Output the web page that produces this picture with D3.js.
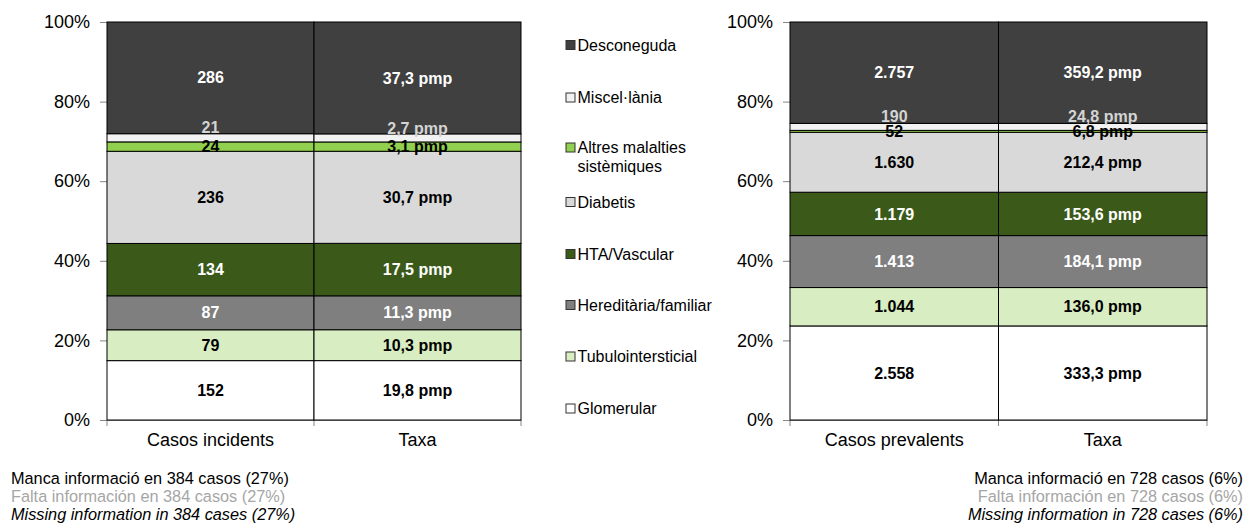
<!DOCTYPE html>
<html><head><meta charset="utf-8">
<script src="https://cdn.jsdelivr.net/npm/d3@7"></script>
<style>body{margin:0;background:#fff}svg{font-family:"Liberation Sans",Arial,sans-serif}</style>
</head><body><svg id="c" width="1246" height="524"></svg>
<script>
const series = ["Glomerular","Tubulointersticial","Hereditària/familiar","HTA/Vascular","Diabetis","Altres malalties sistèmiques","Miscel·lània","Desconeguda"];
const incCases = [152,79,87,134,236,24,21,286];
const incRate = [19.8,10.3,11.3,17.5,30.7,3.1,2.7,37.3];
const prevCases = [2558,1044,1413,1179,1630,52,190,2757];
const prevRate = [333.3,136.0,184.1,153.6,212.4,6.8,24.8,359.2];
const incCats = ["Casos incidents","Taxa"];
const prevCats = ["Casos prevalents","Taxa"];
const yTicks = [0,0.2,0.4,0.6,0.8,1];
const legendOrder = ["Desconeguda","Miscel·lània","Altres malalties sistèmiques","Diabetis","HTA/Vascular","Hereditària/familiar","Tubulointersticial","Glomerular"];
const notesInc = ["Manca informació en 384 casos (27%)","Falta información en 384 casos (27%)","Missing information in 384 cases (27%)"];
const notesPrev = ["Manca informació en 728 casos (6%)","Falta información en 728 casos (6%)","Missing information in 728 cases (6%)"];

const colors = {"Glomerular":"#ffffff","Tubulointersticial":"#d8edc1","Hereditària/familiar":"#7f7f7f","HTA/Vascular":"#3b5a19","Diabetis":"#d9d9d9","Altres malalties sistèmiques":"#92d050","Miscel·lània":"#f2f2f2","Desconeguda":"#404040"};
const labelColors = {"Glomerular":"#000","Tubulointersticial":"#000","Hereditària/familiar":"#fff","HTA/Vascular":"#fff","Diabetis":"#000","Altres malalties sistèmiques":"#000","Miscel·lània":"#d4d4d4","Desconeguda":"#fff"};
const labelShift = {"Miscel·lània":-10};

const loc = d3.formatLocale({decimal:",",thousands:".",grouping:[3],currency:["","€"]});
const fCases = loc.format(",d");
const fRate = v => loc.format(",.1f")(v) + " pmp";

const svg = d3.select("#c");
const FONT = "Liberation Sans, Arial, sans-serif";

function drawChart(x0, x1, cats, cases, rate) {
  const y = d3.scaleLinear().domain([0,1]).range([420,22]);
  const x = d3.scaleBand().domain(cats).range([x0,x1]).padding(0);
  const rows = cats.map((c,i) => {
    const o = {cat:c};
    series.forEach((s,j) => o[s] = i===0 ? cases[j] : rate[j]);
    return o;
  });
  const stack = d3.stack().keys(series).offset(d3.stackOffsetExpand)(rows);
  const g = svg.append("g");
  const ya = g.append("g").attr("transform",`translate(${x0},0)`)
    .call(d3.axisLeft(y).tickValues(yTicks).tickFormat(d3.format(".0%")).tickSize(7).tickPadding(10));
  ya.select(".domain").attr("stroke","#868686");
  ya.selectAll(".tick line").attr("stroke","#868686");
  ya.selectAll("text").attr("font-size",18).attr("fill","#000").attr("font-family",FONT);
  const xa = g.append("g").attr("transform","translate(0,420)")
    .call(d3.axisBottom(x).tickSize(0).tickPadding(13));
  xa.select(".domain").attr("stroke","#868686");
  xa.selectAll("text").attr("font-size",18).attr("fill","#000").attr("font-family",FONT);
  [x0, x(cats[1]), x1].forEach(v => g.append("line").attr("x1",v).attr("x2",v).attr("y1",420).attr("y2",426).attr("stroke","#868686"));
  stack.forEach(layer => {
    const s = layer.key;
    g.selectAll(null).data(layer).enter().append("rect")
      .attr("x", d => x(d.data.cat)).attr("width", x.bandwidth())
      .attr("y", d => y(d[1])).attr("height", d => y(d[0]) - y(d[1]))
      .attr("fill", colors[s]).attr("stroke","#000").attr("stroke-width",1);
  });
  stack.forEach(layer => {
    const s = layer.key;
    const j = series.indexOf(s);
    g.selectAll(null).data(layer).enter().append("text")
      .attr("x", d => x(d.data.cat) + x.bandwidth()/2)
      .attr("y", d => (y(d[0]) + y(d[1]))/2 + (labelShift[s]||0))
      .attr("dy","0.35em").attr("text-anchor","middle")
      .attr("font-size",16).attr("font-weight","bold").attr("fill", labelColors[s])
      .text((d,i) => i===0 ? fCases(cases[j]) : fRate(rate[j]));
  });
}

drawChart(107, 521, incCats, incCases, incRate);
drawChart(790, 1207, prevCats, prevCases, prevRate);

const legY = [45, 97.5, 147.5, 202, 254, 305, 356.5, 408.5];
const lg = svg.append("g");
legendOrder.forEach((s,i) => {
  lg.append("rect").attr("x",566).attr("y",legY[i]-4.5).attr("width",9).attr("height",9)
    .attr("fill",colors[s]).attr("stroke","#333").attr("stroke-width",1);
  const t = lg.append("text").attr("x",577.5).attr("y",legY[i]).attr("dy","0.35em").attr("font-size",16).attr("fill","#000");
  if (s === "Altres malalties sistèmiques") {
    t.text("Altres malalties");
    lg.append("text").attr("x",577.5).attr("y",legY[i]+19).attr("dy","0.35em").attr("font-size",16).attr("fill","#000").text("sistèmiques");
  } else t.text(s);
});

const noteStyle = [{fill:"#000",style:"normal"},{fill:"#a6a6a6",style:"normal"},{fill:"#000",style:"italic"}];
notesInc.forEach((n,i) => svg.append("text").attr("x",11).attr("y",484+i*18).attr("font-size",16.3)
  .attr("fill",noteStyle[i].fill).attr("font-style",noteStyle[i].style).text(n));
notesPrev.forEach((n,i) => svg.append("text").attr("x",1243).attr("y",484+i*18).attr("text-anchor","end").attr("font-size",16.3)
  .attr("fill",noteStyle[i].fill).attr("font-style",noteStyle[i].style).text(n));
</script></body></html>
